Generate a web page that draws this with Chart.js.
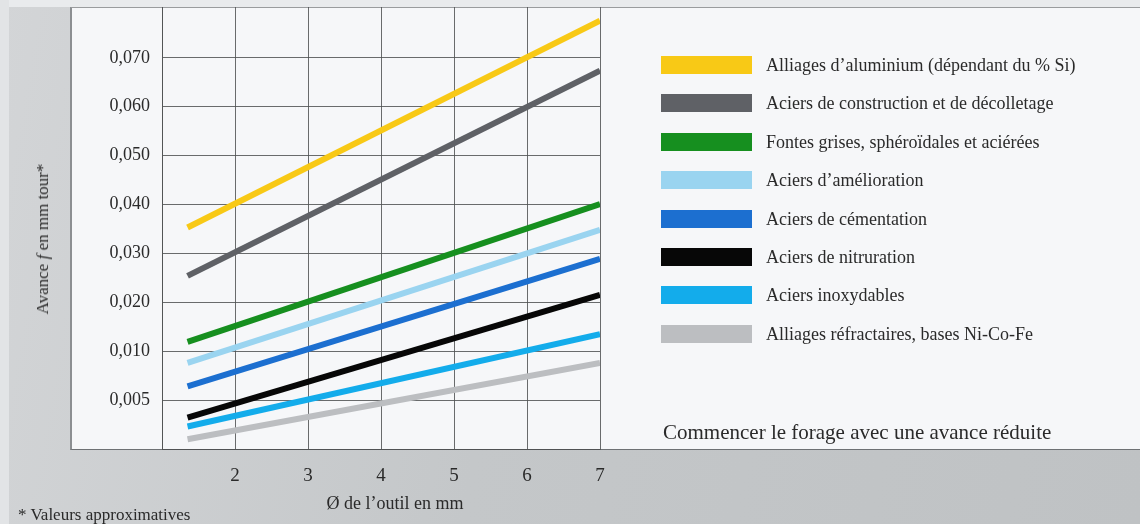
<!DOCTYPE html>
<html lang="fr">
<head>
<meta charset="utf-8">
<title>Avance en fonction du diamètre de l'outil</title>
<script src="https://cdn.jsdelivr.net/npm/chart.js@4.4.1/dist/chart.umd.min.js"></script>
<style>
    html, body { margin: 0; padding: 0; }
    body {
        width: 1140px; height: 524px; position: relative; overflow: hidden;
        font-family: "Liberation Serif", "DejaVu Serif", serif; color: #2a2a2a;
        background: linear-gradient(100deg, #d3d5d7 0%, #c4c7c9 45%, #bfc2c4 100%);
    }
    #bandeGauche { position: absolute; left: 0; top: 0; width: 9px; height: 524px; background: #e2e4e6; }
    #hautPanneau { position: absolute; left: 9px; top: 0; width: 1131px; height: 7px; background: #e9ebed; }
    #panneau {
        position: absolute; left: 70px; top: 7px; width: 1070px; height: 441px;
        background: #f6f7f9; border-top: 1px solid #9a9c9e; border-left: 2px solid #8c8f92;
        border-bottom: 1px solid #6e7174; box-sizing: content-box;
    }
    #graphique { position: absolute; left: 0; top: 0; width: 1140px; height: 524px; }
    #titreY {
        position: absolute; left: 43px; top: 239px; font-size: 17px; white-space: nowrap;
        transform: translate(-50%, -50%) rotate(-90deg);
    }
    #titreX { position: absolute; left: 395px; top: 503px; font-size: 18px; white-space: nowrap; transform: translate(-50%, -50%); }
    #note { position: absolute; left: 18px; top: 515px; font-size: 17px; white-space: nowrap; transform: translateY(-50%); }
    #conseil { position: absolute; left: 663px; top: 432px; font-size: 21px; white-space: nowrap; transform: translateY(-50%); }
    #legende { position: absolute; left: 661px; top: 0; }
    .ligneLegende { position: absolute; left: 0; height: 18px; white-space: nowrap; }
    .boite { position: absolute; left: 0; top: 0; width: 91px; height: 18px; }
    .texte { position: absolute; left: 105px; top: 50%; transform: translateY(-50%); font-size: 18px; }
</style>
</head>
<body>
<div id="bandeGauche"></div>
<div id="hautPanneau"></div>
<div id="panneau"></div>
<div id="graphique"><canvas id="avanceChart"></canvas></div>
<div id="titreY">Avance <i>f</i> en mm tour*</div>
<div id="titreX">Ø de l’outil en mm</div>
<div id="note">* Valeurs approximatives</div>
<div id="conseil">Commencer le forage avec une avance réduite</div>
<div id="legende"></div>

<script>
// Données
const matieres = [
    "Alliages d’aluminium (dépendant du % Si)",
    "Aciers de construction et de décolletage",
    "Fontes grises, sphéroïdales et aciérées",
    "Aciers d’amélioration",
    "Aciers de cémentation",
    "Aciers de nitruration",
    "Aciers inoxydables",
    "Alliages réfractaires, bases Ni-Co-Fe"
];
const diametres = [1.35, 7];                 // Ø de l'outil (mm), début et fin des droites
const avanceDebut = [0.0353, 0.0254, 0.0119, 0.0088, 0.0064, 0.0032, 0.0023, 0.0010];
const avanceFin = [0.0776, 0.0674, 0.0401, 0.0348, 0.0289, 0.0215, 0.0135, 0.0088];
const graduationsY = [0.005, 0.010, 0.020, 0.030, 0.040, 0.050, 0.060, 0.070];
const etiquettesY = ["0,005", "0,010", "0,020", "0,030", "0,040", "0,050", "0,060", "0,070"];
const graduationsX = [2, 3, 4, 5, 6, 7];

const couleurs = ["#f8c916", "#5f6166", "#168f1f", "#9ad4f0", "#1c6fd0", "#070707", "#13aceb", "#bcbec1"];

// L'axe vertical n'est pas linéaire : 0 -> 0,005 -> 0,010 puis pas de 0,010
function position(v) {
    return v <= 0.010 ? v / 0.005 : 1 + v / 0.010;
}

Chart.defaults.font.family = '"Liberation Serif", "DejaVu Serif", serif';
Chart.defaults.color = "#2a2a2a";

const grille = "rgba(80, 82, 84, 0.85)";

const datasets = matieres.map((nom, i) => ({
    label: nom,
    data: [
        { x: diametres[0], y: position(avanceDebut[i]) },
        { x: diametres[1], y: position(avanceFin[i]) }
    ],
    borderColor: couleurs[i],
    backgroundColor: couleurs[i],
    borderWidth: 6,
    borderCapStyle: "butt",
    pointRadius: 0,
    tension: 0,
    fill: false,
    order: i
}));

const chart = new Chart(document.getElementById("avanceChart").getContext("2d"), {
    type: "line",
    data: { datasets: datasets },
    options: {
        responsive: true,
        maintainAspectRatio: false,
        animation: false,
        layout: { padding: { left: 70, right: 540, top: 7, bottom: 0 } },
        plugins: { legend: { display: false }, tooltip: { enabled: false } },
        scales: {
            x: {
                type: "linear",
                min: 1, max: 7,
                ticks: {
                    stepSize: 1,
                    padding: 16,
                    font: { size: 19 },
                    callback: v => graduationsX.includes(v) ? String(v) : ""
                },
                grid: { color: grille, lineWidth: 1, drawTicks: false },
                border: { color: grille },
                afterFit: scale => { scale.height = 75; }
            },
            y: {
                type: "linear",
                min: 0, max: 9.04,
                ticks: {
                    stepSize: 1,
                    includeBounds: false,
                    padding: 12,
                    font: { size: 18 },
                    callback: v => {
                        const k = graduationsY.findIndex(g => Math.abs(position(g) - v) < 1e-6);
                        return k >= 0 ? etiquettesY[k] : "";
                    }
                },
                grid: {
                    drawTicks: false,
                    lineWidth: 1,
                    color: c => (c.tick && c.tick.value > 8.5) ? "rgba(0,0,0,0)" : grille
                },
                border: { color: grille },
                afterFit: scale => {
                    scale.width = 92;
                    scale.paddingTop = 0;
                    scale.paddingBottom = 0;
                }
            }
        }
    }
});

// Légende HTML construite à partir des séries du graphique
const legende = document.getElementById("legende");
chart.data.datasets.forEach((d, i) => {
    const ligne = document.createElement("div");
    ligne.className = "ligneLegende";
    ligne.style.top = (56 + i * 38.4) + "px";
    const boite = document.createElement("div");
    boite.className = "boite";
    boite.style.background = d.borderColor;
    const texte = document.createElement("div");
    texte.className = "texte";
    texte.textContent = d.label;
    ligne.appendChild(boite);
    ligne.appendChild(texte);
    legende.appendChild(ligne);
});
</script>
</body>
</html>
